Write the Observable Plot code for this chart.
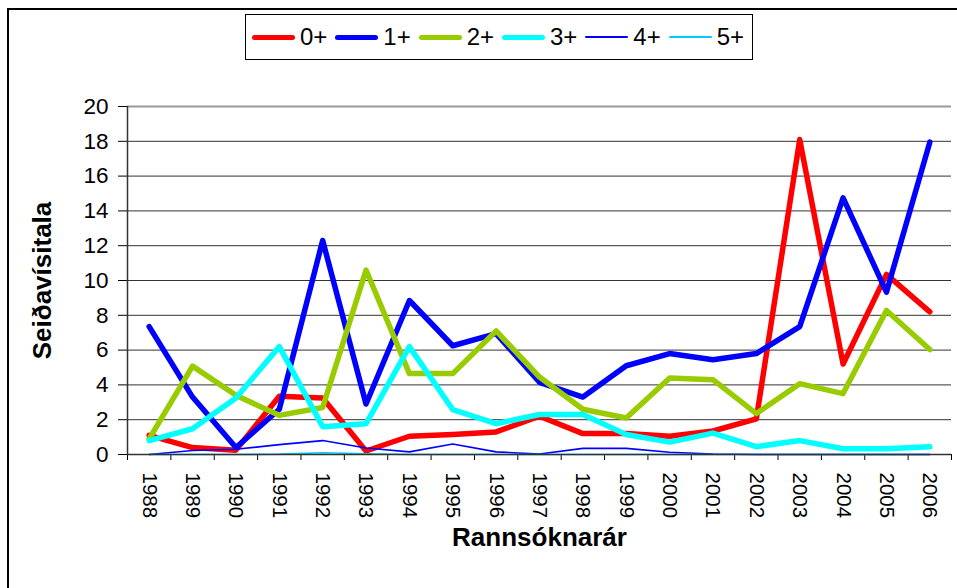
<!DOCTYPE html>
<html>
<head>
<meta charset="utf-8">
<script src="https://cdn.jsdelivr.net/npm/d3@7"></script>
<script src="https://cdn.jsdelivr.net/npm/@observablehq/plot@0.6"></script>
<style>
  html, body { margin: 0; padding: 0; background: #fff; }
  #wrap { position: relative; width: 957px; height: 588px; overflow: hidden; font-family: "Liberation Sans", Arial, sans-serif; }
  #frame { position: absolute; left: 7px; top: 8px; width: 1000px; height: 700px; border-left: 2px solid #000; border-top: 2px solid #000; box-sizing: border-box; }
  #legend { position: absolute; left: 245px; top: 14px; width: 508px; height: 46px; border: 1.5px solid #000; box-sizing: border-box; background: #fff; display: flex; align-items: center; padding-left: 6px; }
  .item { display: flex; align-items: center; width: 84px; }
  .sw { width: 43px; border-radius: 3px; margin-right: 5px; }
  .lab { font-size: 24px; color: #000; }
  #chart { position: absolute; left: 0; top: 68px; }
  #chart g[aria-label="y-axis tick label"] { font-size: 22.5px !important; }
  #chart g[aria-label="y-axis tick label"] text { font-size: 22.5px !important; }
  #chart g[aria-label="x-axis tick label"] { font-size: 20.5px !important; }
  #chart g[aria-label="x-axis tick label"] text { font-size: 20.5px !important; }
</style>
</head>
<body>
<div id="wrap">
  <div id="frame"></div>
  <div id="legend"></div>
  <div id="chart"></div>
</div>
<script>
const years = [1988,1989,1990,1991,1992,1993,1994,1995,1996,1997,1998,1999,2000,2001,2002,2003,2004,2005,2006];
const seriesNames = ["0+","1+","2+","3+","4+","5+"];
const seriesColors = ["#FF0000","#0000FF","#99CC00","#00FFFF","#0000FF","#00CCFF"];
const seriesWidths = [5.5,5.5,5.5,5.5,1.6,1.6];

const age0 = [1.1,0.4,0.25,3.35,3.25,0.2,1.05,1.15,1.3,2.2,1.2,1.2,1.05,1.35,2.05,18.1,5.2,10.35,8.2];
const age1 = [7.35,3.3,0.4,2.6,12.3,2.9,8.85,6.25,6.95,4.15,3.3,5.1,5.8,5.45,5.8,7.35,14.75,9.33,17.95];
const age2 = [0.9,5.08,3.4,2.25,2.7,10.6,4.65,4.65,7.1,4.45,2.6,2.1,4.4,4.3,2.35,4.07,3.5,8.28,6.03];
const age3 = [0.8,1.48,3.25,6.2,1.6,1.77,6.2,2.58,1.77,2.3,2.3,1.15,0.71,1.23,0.45,0.8,0.33,0.33,0.45];
const age4 = [0,0.23,0.3,0.57,0.8,0.37,0.15,0.6,0.15,0.03,0.35,0.35,0.13,0.03,0,0,0,0,0];
const age5 = [0,0,0,0.02,0.1,0.04,0,0,0,0,0,0,0,0,0,0,0,0,0];
const seriesValues = [age0, age1, age2, age3, age4, age5];

const yTicks = [0,2,4,6,8,10,12,14,16,18,20];
const yTitle = "Seiðavísitala";
const xTitle = "Rannsóknarár";

// legend
const leg = document.getElementById("legend");
seriesNames.forEach((n, i) => {
  const it = document.createElement("div"); it.className = "item";
  const sw = document.createElement("div"); sw.className = "sw";
  sw.style.height = (seriesWidths[i] > 3 ? 5 : 2) + "px";
  sw.style.background = seriesColors[i];
  const lb = document.createElement("span"); lb.className = "lab"; lb.textContent = n;
  it.appendChild(sw); it.appendChild(lb); leg.appendChild(it);
});

const boundaries = years.map(y => y - 0.5).concat([years[years.length - 1] + 0.5]);
const x0 = boundaries[0], x1 = boundaries[boundaries.length - 1];

const lineMarks = seriesValues.map((vals, i) =>
  Plot.line(years.map((yr, j) => ({year: yr, value: vals[j]})), {
    x: "year", y: "value", stroke: seriesColors[i], strokeWidth: seriesWidths[i],
    strokeLinejoin: "round", strokeLinecap: "round"
  })
);

const chart = Plot.plot({
  width: 957,
  height: 520,
  marginTop: 38,
  marginBottom: 134,
  marginLeft: 127,
  marginRight: 6,
  style: { fontFamily: "'Liberation Sans', Arial, sans-serif", background: "transparent", overflow: "visible" },
  x: { type: "linear", domain: [x0, x1] },
  y: { domain: [0, 20] },
  marks: [
    Plot.ruleY(yTicks.slice(1, -1), { stroke: "#333", strokeWidth: 1 }),
    Plot.ruleY([yTicks[yTicks.length - 1]], { stroke: "#999", strokeWidth: 2 }),
    Plot.axisY({ ticks: yTicks, tickSize: 9, tickPadding: 10, fontSize: 23, label: null, tickFormat: d => String(d) }),
    Plot.axisX({ ticks: years, tickSize: 0, tickPadding: 18, tickRotate: 90, fontSize: 21, label: null, tickFormat: d => String(d) }),
    Plot.axisX({ ticks: boundaries, tickSize: 6, tickFormat: () => "", label: null }),
    ...lineMarks,
    Plot.ruleY([0], { stroke: "#333", strokeWidth: 1.5 }),
    Plot.ruleX([x0], { stroke: "#333", strokeWidth: 1.5 }),
    Plot.text([yTitle], { frameAnchor: "left", textAnchor: "middle", dx: -85, rotate: -90, text: d => d, fontSize: 26, fontWeight: "bold", fill: "#000" }),
    Plot.text([xTitle], { frameAnchor: "bottom", textAnchor: "middle", dy: 91, text: d => d, fontSize: 26, fontWeight: "bold", fill: "#000" })
  ]
});
document.getElementById("chart").appendChild(chart);
</script>
</body>
</html>
